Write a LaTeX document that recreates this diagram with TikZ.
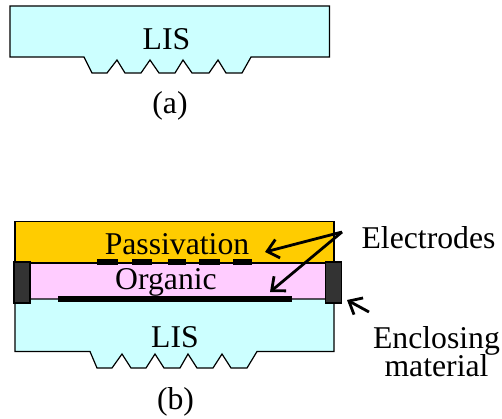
\documentclass[tikz,border=0pt]{standalone}
\usepackage{fontspec}
\setmainfont{Liberation Serif}
\usetikzlibrary{arrows.meta}
\definecolor{lis}{HTML}{CCFFFF}
\definecolor{pass}{HTML}{FFCC00}
\definecolor{org}{HTML}{FFCCFF}
\definecolor{encl}{HTML}{333333}
\tikzset{
 outline/.style={draw=black,line width=1.2pt,line join=miter},
 lbl/.style={inner sep=0pt,font=\fontsize{31.7}{29}\selectfont,text=black},
 elec/.style={fill=black,draw=none},
 pointer/.style={line width=2.8pt,-{Straight Barb[length=11pt,width=19pt,line width=2.8pt]}}
}
\begin{document}
\begin{tikzpicture}[x=1pt,y=-1pt]
\useasboundingbox (0,0) rectangle (502,419);
% (a)
\draw[outline,fill=lis] (10,6) -- (329.5,6) -- (329.5,57) -- (251,57) -- (242,73) -- (226,73) -- (218,60) -- (209,73) -- (192,73) -- (183,60) -- (175,73) -- (159,73) -- (150,60) -- (141,73) -- (125,73) -- (117,60) -- (107,73) -- (92,73) -- (84,57) -- (10,57) -- cycle;
\node[lbl] (lisa) at (166.5,39) {LIS};
\node[lbl] (capa) at (170,106) {(a)};
% (b)
\draw[outline,fill=pass] (15,221.5) rectangle (334,263);
\fill[org] (15,263) rectangle (334,299);
\draw[outline,fill=lis] (15,299) -- (334,299) -- (334,351.5) -- (257,351.5) -- (247,368) -- (231,368) -- (222,354) -- (213,368) -- (197,368) -- (188,354) -- (180,368) -- (164,368) -- (155,354) -- (146,368) -- (131,368) -- (122,354) -- (112,368) -- (97,368) -- (90,351.5) -- (15,351.5) -- cycle;
\draw[line width=2pt] (15,263) -- (334,263);
\foreach \a/\b in {97/118,132/152,168/186,199/220,233/252}{\fill[elec] (\a,259) rectangle (\b,265);}
\fill[elec] (58,296) rectangle (292,302);
\draw[outline,fill=encl] (14,262) rectangle (30,303);
\draw[outline,fill=encl] (325.5,262) rectangle (341.5,303);
\node[lbl] (passv) at (177,244) {Passivation};
\node[lbl] (organic) at (166,282) {Organic};
\node[lbl] (lisb) at (175,337) {LIS};
\node[lbl] (capb) at (175.5,402) {(b)};
\node[lbl] (elecl) at (428.5,238) {Electrodes};
\node[lbl,align=center] (enclm) at (436.5,351.5) {Enclosing\\[-1pt]material};
\coordinate (src) at (342,232);
\coordinate (t1) at (265,252);
\coordinate (t2) at (270,292);
\coordinate (src2) at (369,312);
\coordinate (t3) at (347,300);
\draw[pointer] (src) -- (t1);
\draw[pointer] (src) -- (t2);
\draw[pointer] (src2) -- (t3);
\end{tikzpicture}
\end{document}
